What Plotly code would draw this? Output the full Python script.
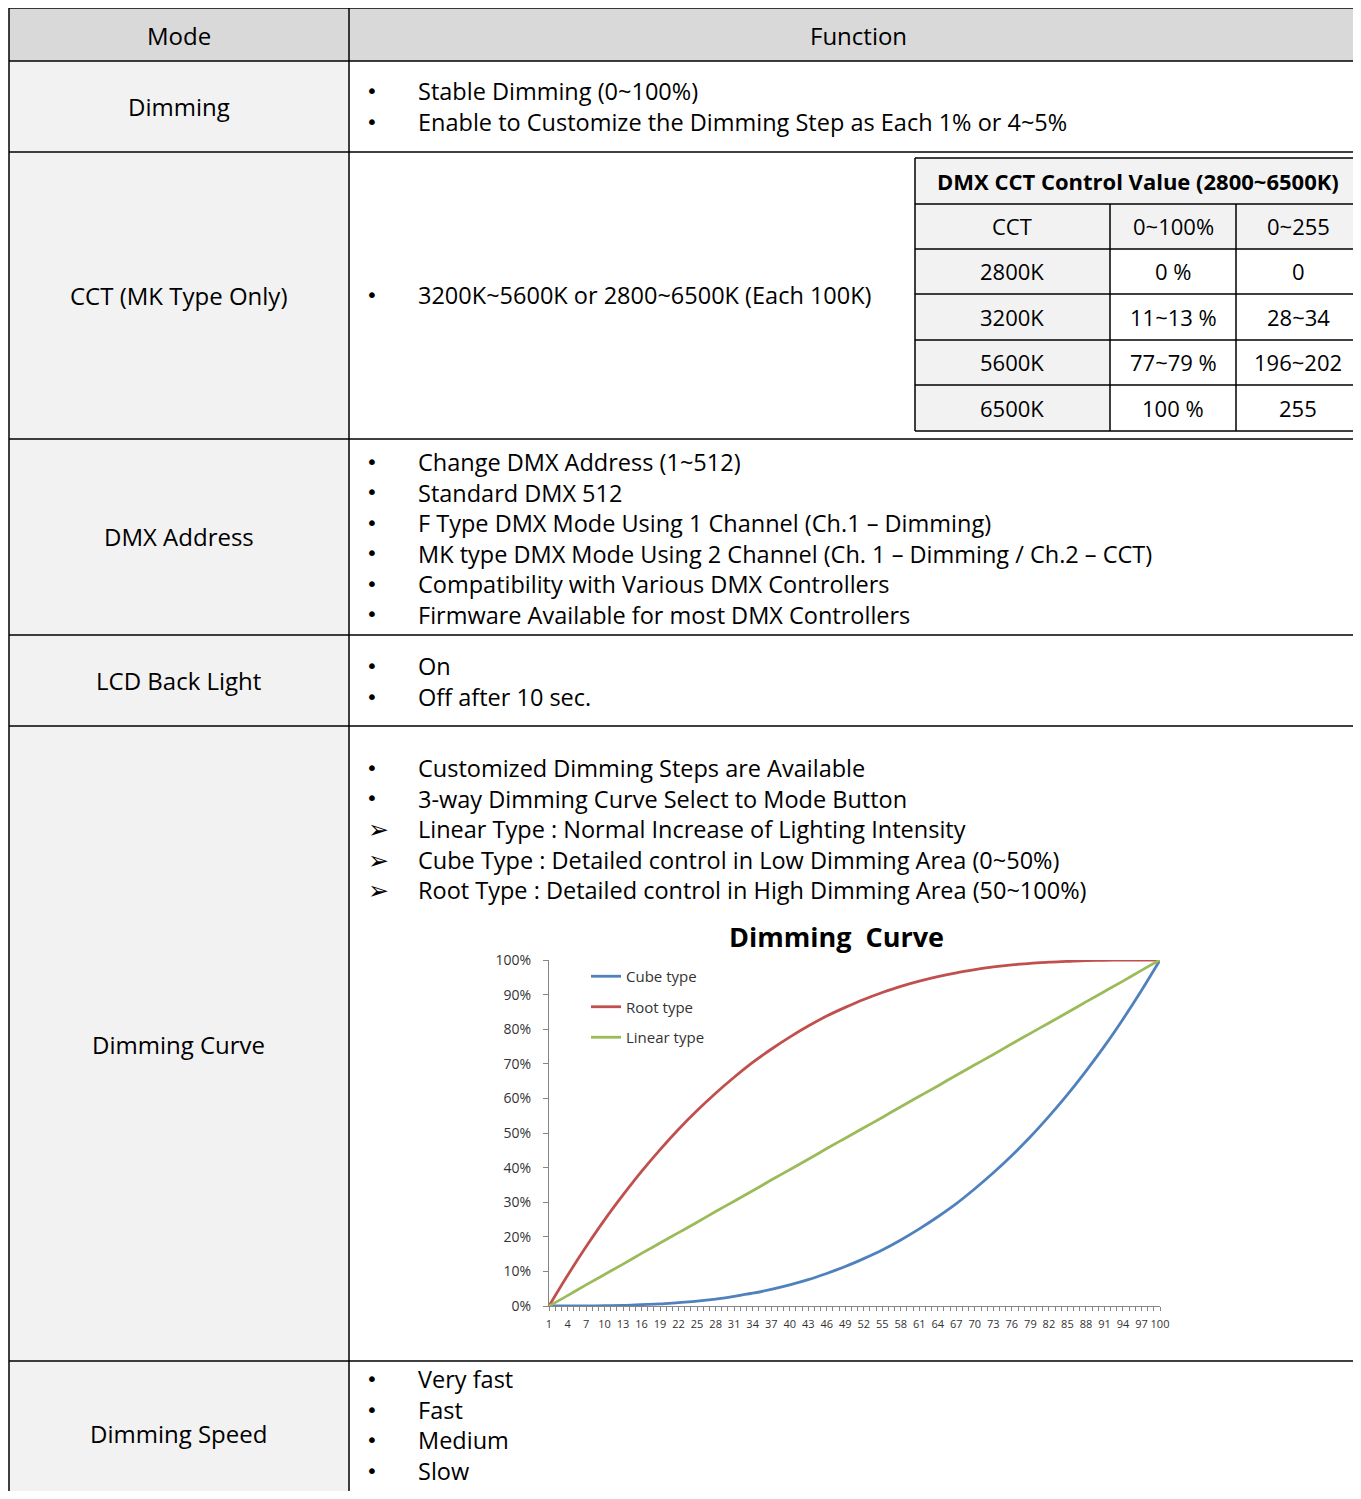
import plotly.graph_objects as go

# ---------------- data ----------------
categories = [1, 4, 7, 10, 13, 16, 19, 22, 25, 28, 31, 34, 37, 40, 43, 46, 49, 52, 55,
              58, 61, 64, 67, 70, 73, 76, 79, 82, 85, 88, 91, 94, 97, 100]
cube_type = [0, 0.0, 0.0, 0.1, 0.2, 0.4, 0.6, 1.0, 1.4, 2.0, 2.8, 3.7, 4.8, 6.1, 7.6, 9.4,
             11.4, 13.7, 16.2, 19.1, 22.3, 25.8, 29.6, 33.9, 38.5, 43.5, 48.9, 54.8, 61.1,
             67.9, 75.1, 82.9, 91.2, 100]
root_type = [0, 8.8, 17.1, 24.9, 32.1, 38.9, 45.2, 51.1, 56.5, 61.5, 66.1, 70.4, 74.2, 77.7,
             80.9, 83.8, 86.3, 88.6, 90.6, 92.4, 93.9, 95.2, 96.3, 97.2, 98.0, 98.6, 99.0,
             99.4, 99.6, 99.8, 99.9, 100, 100, 100]
linear_type = [0, 3.0, 6.1, 9.1, 12.1, 15.2, 18.2, 21.2, 24.2, 27.3, 30.3, 33.3, 36.4, 39.4,
               42.4, 45.5, 48.5, 51.5, 54.5, 57.6, 60.6, 63.6, 66.7, 69.7, 72.7, 75.8, 78.8,
               81.8, 84.8, 87.9, 90.9, 93.9, 97.0, 100]
series_names = ["Cube type", "Root type", "Linear type"]
series_colors = ["#4F81BD", "#C0504D", "#9BBB59"]
x_tick_labels = [str(c) for c in categories]

header_labels = ["Mode", "Function"]
modes = ["Dimming", "CCT (MK Type Only)", "DMX Address", "LCD Back Light",
         "Dimming Curve", "Dimming Speed"]
functions = [
    [("•", "Stable Dimming (0~100%)"),
     ("•", "Enable to Customize the Dimming Step as Each 1% or 4~5%")],
    [("•", "3200K~5600K or 2800~6500K (Each 100K)")],
    [("•", "Change DMX Address (1~512)"),
     ("•", "Standard DMX 512"),
     ("•", "F Type DMX Mode Using 1 Channel (Ch.1 – Dimming)"),
     ("•", "MK type DMX Mode Using 2 Channel (Ch. 1 – Dimming / Ch.2 – CCT)"),
     ("•", "Compatibility with Various DMX Controllers"),
     ("•", "Firmware Available for most DMX Controllers")],
    [("•", "On"), ("•", "Off after 10 sec.")],
    [("•", "Customized Dimming Steps are Available"),
     ("•", "3-way Dimming Curve Select to Mode Button"),
     ("➢", "Linear Type : Normal Increase of Lighting Intensity"),
     ("➢", "Cube Type : Detailed control in Low Dimming Area (0~50%)"),
     ("➢", "Root Type : Detailed control in High Dimming Area (50~100%)")],
    [("•", "Very fast"), ("•", "Fast"), ("•", "Medium"), ("•", "Slow")],
]
cct_title = "DMX CCT Control Value (2800~6500K)"
cct_header = ["CCT", "0~100%", "0~255"]
cct_rows = [["2800K", "0 %", "0"],
            ["3200K", "11~13 %", "28~34"],
            ["5600K", "77~79 %", "196~202"],
            ["6500K", "100 %", "255"]]
chart_title = "Dimming\u00a0 Curve"

# ---------------- geometry (screen pixels) ----------------
OX, OY = 8, 8
FW, FH = 1345, 1483


def X(px):
    return (px - OX) / FW


def Y(py):
    return 1 - (py - OY) / FH


FONT = "Open Sans"
row_y = [8, 61, 152, 439, 635, 726, 1361, 1520]
mode_text_y = [107, 295, 537, 681, 1044, 1433]
func_first_y = [92, 295, 466, 667, 771, 1391]
ref_gap = 28.8
FSIZE = 23.5
plotly_gap = FSIZE * 1.3
BOTTOM = OY + FH - 3

shapes = []
ann = []


def rect(x0, y0, x1, y1, color):
    shapes.append(dict(type="rect", xref="paper", yref="paper", x0=X(x0), x1=X(x1),
                       y0=Y(y1), y1=Y(y0), fillcolor=color, line=dict(width=0),
                       layer="below"))


def line(x0, y0, x1, y1, w=1.5, color="#000000"):
    shapes.append(dict(type="line", xref="paper", yref="paper", x0=X(x0), x1=X(x1),
                       y0=Y(y0), y1=Y(y1), line=dict(color=color, width=w)))


def text(x, y, s, size=24, anchor="center", bold=False, font=FONT, color="#000000", align="center"):
    ann.append(dict(xref="paper", yref="paper", x=X(x), y=Y(y), text=("<b>%s</b>" % s) if bold else s,
                    showarrow=False, xanchor=anchor, yanchor="middle", align=align,
                    font=dict(family=font, size=size, color=color)))


# backgrounds
rect(9, 8, 1380, 61, "#D9D9D9")
rect(9, 61, 349, 1520, "#F2F2F2")
# inner table backgrounds
rect(915, 158, 1380, 249, "#F2F2F2")
rect(915, 249, 1110, 431, "#F2F2F2")

# main table borders
for yy in row_y[:-1]:
    line(9, yy, 1380, yy)
line(9, 8, 9, 1520)
line(349, 8, 349, 1520)

# inner table borders
inner_y = [158, 204, 249, 294, 340, 385, 431]
for yy in inner_y:
    line(915, yy, 1380, yy)
line(915, 158, 915, 431)
line(1110, 204, 1110, 431)
line(1236, 204, 1236, 431)

# header text
text(179, 35, header_labels[0])
text(859, 35, header_labels[1])

# mode column + functions
for i, m in enumerate(modes):
    text(179, mode_text_y[i], m)
    items = functions[i]
    n = len(items)
    center = func_first_y[i] + (n - 1) * ref_gap / 2
    half = n * plotly_gap / 2 + 2
    center = min(center, BOTTOM - half)
    text(416, center, "<br>".join(s for _, s in items), size=FSIZE, anchor="left", align="left")
    for j, (b, _) in enumerate(items):
        yy = center + (j - (n - 1) / 2) * plotly_gap
        if b == "•":
            text(372, yy, b, size=20, font="DejaVu Sans")
        else:
            text(378, yy + 1, b, size=25, font="DejaVu Sans")

# inner CCT table
text(1138, 181, cct_title, size=22, bold=True)
col_cx = [1012, 1173, 1298]
for k, h in enumerate(cct_header):
    text(col_cx[k], 226, h, size=22)
row_cy = [271, 317, 362, 408]
for r, row in enumerate(cct_rows):
    for k, v in enumerate(row):
        text(col_cx[k], row_cy[r], v, size=22)

# chart title
text(836, 936, chart_title, size=27, bold=True)

# ---------------- chart ----------------
fig = go.Figure()
for name, vals, col in zip(series_names, [cube_type, root_type, linear_type], series_colors):
    fig.add_trace(go.Scatter(x=categories, y=vals, mode="lines", name=name,
                             legendgroup=name, line=dict(color=col, width=2.8, shape="spline"),
                             hoverinfo="skip"))

axis_col = "#868686"
fig.update_layout(
    width=FW, height=FH,
    margin=dict(l=0, r=0, t=0, b=0, autoexpand=False),
    paper_bgcolor="white", plot_bgcolor="rgba(0,0,0,0)",
    shapes=shapes, annotations=ann,
    showlegend=True,
    legend=dict(x=X(586), y=Y(960), xanchor="left", yanchor="top",
                bgcolor="rgba(0,0,0,0)", font=dict(family=FONT, size=15, color="#333333"),
                tracegroupgap=8, itemwidth=30),
    xaxis=dict(domain=[X(549), X(1160)], range=[1, 100], tickmode="array",
               tickvals=categories, ticktext=x_tick_labels, showgrid=False, zeroline=False,
               showline=True, linecolor=axis_col, linewidth=1.3, ticks="outside",
               ticklen=4, tickcolor=axis_col, automargin=False, ticklabelstandoff=4,
               minor=dict(dtick=1, tick0=1, ticks="outside", ticklen=4, tickcolor=axis_col),
               tickfont=dict(family=FONT, size=11, color="#333333"), tickangle=0),
    yaxis=dict(domain=[Y(1306), Y(960)], range=[0, 100], dtick=10, ticksuffix="%",
               showgrid=False, zeroline=False, showline=True, linecolor=axis_col,
               linewidth=1.3, ticks="outside", ticklen=5, tickcolor=axis_col,
               ticklabelstandoff=9, automargin=False,
               tickfont=dict(family=FONT, size=14, color="#333333")),
)

fig.write_html("out.html")
